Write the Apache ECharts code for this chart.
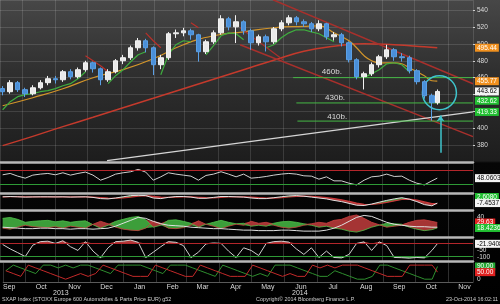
<!DOCTYPE html>
<html><head><meta charset="utf-8">
<script src="https://cdn.jsdelivr.net/npm/echarts@6/dist/echarts.min.js"></script>
<style>
html,body{margin:0;padding:0;background:#000;}
#c{width:500px;height:304px;background:linear-gradient(to bottom,#474747 0px,#303030 70px,#1d1d1d 161px,#060606 163px,#000 304px);}
</style></head><body><div id="c"></div>
<script>
const DAY = 86400000;
function T(s){const m=s.match(/(\d+)-(\d+)-(\d+)(?:[ T](\d+):(\d+))?/);return new Date(+m[1],+m[2]-1,+m[3],m[4]?+m[4]:0,m[5]?+m[5]:0).getTime();}
const monthNames = ['Jan','Feb','Mar','Apr','May','Jun','Jul','Aug','Sep','Oct','Nov','Dec'];
const xMinStr = '2013-09-10 13:00', xMaxStr = '2014-11-24 05:00';

// weekly sample dates
const weeks = ['2013-09-13','2013-09-20','2013-09-27','2013-10-04','2013-10-11','2013-10-18','2013-10-25','2013-11-01','2013-11-08','2013-11-15','2013-11-22','2013-11-29','2013-12-06','2013-12-13','2013-12-20','2013-12-27','2014-01-03','2014-01-10','2014-01-17','2014-01-24','2014-01-31','2014-02-07','2014-02-14','2014-02-21','2014-02-28','2014-03-07','2014-03-14','2014-03-21','2014-03-28','2014-04-04','2014-04-11','2014-04-18','2014-04-25','2014-05-02','2014-05-09','2014-05-16','2014-05-23','2014-05-30','2014-06-06','2014-06-13','2014-06-20','2014-06-27','2014-07-04','2014-07-11','2014-07-18','2014-07-25','2014-08-01','2014-08-08','2014-08-15','2014-08-22','2014-08-29','2014-09-05','2014-09-12','2014-09-19','2014-09-26','2014-10-03','2014-10-10','2014-10-17','2014-10-22'];

// price (OHLC)
const openP  = [447,443.3,454.0,445.7,440.9,448.0,454.0,458.7,457.5,467.0,461.1,469.4,477.6,470.5,457.5,467.0,480.0,483.6,495.4,503.7,495.4,475.3,483.6,512.0,513.1,515.5,510.8,490.7,502.5,513.1,529.7,520.2,526.2,515.5,501.3,508.4,502.5,517.9,525.0,530.9,526.2,523.8,517.9,523.8,508.4,510.8,501.3,481.2,461.1,464.6,475.3,484.7,493.0,484.7,483.6,468.2,455.2,438.6,430.3];
const closeP = [443.3,454.0,445.7,440.9,448.0,454.0,458.7,457.5,467.0,461.1,469.4,477.6,470.5,457.5,467.0,480.0,483.6,495.4,503.7,495.4,475.3,483.6,512.0,513.1,515.5,510.8,490.7,502.5,513.1,529.7,520.2,526.2,515.5,501.3,508.4,502.5,517.9,525.0,530.9,526.2,523.8,517.9,523.8,508.4,510.8,501.3,481.2,461.1,464.6,475.3,484.7,493.0,484.7,483.6,468.2,455.2,438.6,430.3,443.62];
const lowP   = [439,441,443,437,439,446,451,453,455,458,459,467,466,451,455,465,476,481,492,490,463,470,481,507,509,505,479,488,500,511,516,501,511,493,498,491,500,515,522,522,520,514,515,505,504,497,478,458,446,462,472,482,480,479,465,452,435,409,428];
const highP  = [450,457,456,448,451,457,462,462,469,470,472,480,479,472,470,482,487,498,507,506,497,487,514,517,519,518,512,505,516,534,532,534,528,518,511,511,520,528,534,533,529,526,528,525,514,513,503,483,467,478,487,499,495,489,486,470,457,441,446];

// moving averages / overlays
const maDates = ['2013-09-13','2013-10-11','2013-11-08','2013-12-06','2014-01-03','2014-01-31','2014-02-28','2014-03-28','2014-04-25','2014-05-23','2014-06-20','2014-07-04','2014-07-18','2014-08-01','2014-08-08','2014-08-15','2014-08-22','2014-08-29','2014-09-12','2014-09-19','2014-09-26','2014-10-03','2014-10-10','2014-10-17','2014-10-22'];
const maVals  = [426.7,436.2,446.8,459.9,469.4,482.4,499.0,509.6,514.3,519.1,520.8,521.4,513.1,503.7,495.4,485.9,480.0,477.6,477.6,476.4,471.7,467.0,462.2,456.3,455.77];
const ma200Dates = ['2013-09-13','2013-10-11','2013-11-08','2013-12-06','2014-01-03','2014-01-31','2014-02-28','2014-03-28','2014-04-25','2014-05-23','2014-06-20','2014-07-18','2014-08-15','2014-09-12','2014-10-10','2014-10-22'];
const ma200Vals  = [379.4,390.4,401.9,413.0,424.4,435.5,446.9,458.1,469.4,480.6,491.2,497.2,500.1,498.9,496.6,495.44];
const greenVals = [421.9,431.5,437.4,439.8,441.0,443.3,444.5,446.9,450.4,452.8,458.7,467.0,null,null,452.8,462.3,469.4,478.8,487.1,490.7,null,463.4,487.1,498.9,503.7,502.5,null,487.1,497.8,509.6,513.1,512.0,504.8,null,null,495.4,499.0,507.2,513.1,516.7,516.7,514.3,512.0,507.2,502.5,null,null,null,460.0,464.6,469.4,476.4,477.6,475.3,467.0,null,null,431.5,432.62];
const sarVals = [null,null,null,null,null,null,null,null,null,null,null,485.9,480.0,474.1,467.0,null,null,null,null,513.1,503.7,495.4,null,null,null,525.0,519.1,null,null,null,null,null,null,null,null,null,null,null,null,null,null,null,null,null,null,null,null,null,null,null,null,null,null,null,null,null,null,null,null];

// trend lines
const upperDates = ['2014-05-22 07:00', xMaxStr], upperVals = [552.2, 452.8];
const lowerDates = ['2014-04-21 17:00', xMaxStr], lowerVals = [498.9, 390.1];
const steepDates = ['2014-04-21 17:00','2014-05-31 14:00'], steepVals = [519.1, 481.2];
const trendDates = ['2013-12-19', xMaxStr], trendVals = [361.7, 419.33];
const supportVals = [460, 430, 408.5];
const supportStart = ['2014-06-10','2014-06-13','2014-06-14'];
const supportText = ['460b.','430b.','410b.'];
const supportTextDates = ['2014-07-16','2014-07-19','2014-07-21'];
const supportTextVals = [466.7, 436.1, 413.7];
const tagVals = [495.44, 455.77, 443.62, 432.62, 419.33];
const tagBg = ['#f0901e','#f0901e','#f4f4f4','#22c032','#22c032'];
const tagFg = ['#fff','#fff','#000','#fff','#fff'];

// indicators
const rsi = [58,62,54,48,57,60,62,58,64,57,62,66,57,42,50,60,64,67,74,66,42,52,64,60,57,54,42,56,60,67,60,52,60,48,50,53,57,60,62,60,55,54,45,52,40,40,33,28,42,52,54,60,53,54,42,33,28,40,48.06];
const macdLine = [3,3.5,3,2.5,2.8,3,3,2.8,3,2.5,2.8,3,2,0,-0.5,1,3,5,5.5,5,1,0,2,3.5,3.5,2.5,0.5,0.5,2,3.5,3.5,3,2.5,1,0,0,1.5,3,4.5,5,4,2.5,1,-0.5,-3,-5,-8,-11,-11.5,-9,-6,-3,-0.5,1.5,-1,-5,-10,-12,-7.45];
const macdSignal = [3,3.1,3.2,3,2.9,2.9,3,2.9,2.9,2.8,2.8,2.8,2.6,1.8,1,0.6,1.2,2.5,4,4.8,3.8,2.6,2,2.4,2.9,2.9,2.2,1.5,1.3,2,2.7,3,2.9,2.3,1.5,0.8,0.8,1.6,2.7,3.7,4,3.6,2.8,1.6,0,-2,-4.5,-7.5,-9.5,-9.8,-8.5,-6.3,-3.8,-1.5,-0.8,-2.5,-5.5,-8.5,-8.4];
const plusDI = [38,40,36,30,32,33,34,31,33,30,32,33,25,18,24,32,36,40,42,35,20,24,34,35,32,28,20,26,30,34,30,27,28,22,24,22,28,31,32,30,27,24,20,22,18,16,12,10,14,20,24,28,27,26,20,16,13,15,18.42];
const minusDI = [18,16,20,24,21,20,19,21,18,22,20,18,26,32,27,20,16,14,13,18,32,28,18,17,19,24,33,26,22,17,22,26,24,32,28,30,24,20,18,20,24,27,30,28,34,36,42,45,38,30,25,20,22,24,30,34,35,32,29.63];
const adx = [20,19,18,17,17,18,18,17,17,16,17,17,16,17,18,22,28,34,40,38,32,27,24,23,22,20,19,18,17,17,16,15,14,14,13,13,13,14,14,13,12,12,12,14,18,24,32,40,44,42,36,30,26,24,22,21,21,20,20];
const willR = [-25,-45,-62,-80,-28,-12,-10,-20,-8,-35,-52,-12,-55,-85,-40,-12,-10,-5,-15,-84,-60,-35,-12,-15,-30,-84,-60,-22,-18,-20,-55,-84,-40,-52,-75,-20,-12,-10,-14,-45,-70,-40,-84,-55,-84,-86,-70,-20,-13,-52,-13,-30,-84,-85,-87,-84,-86,-52,-21.94];
const aroonUp = [60,100,80,60,40,100,100,80,100,80,100,100,80,60,40,100,100,100,100,80,60,40,100,100,100,80,60,40,20,100,80,60,40,20,40,20,100,100,100,80,60,40,20,20,60,40,20,0,0,20,100,100,80,60,40,20,0,0,90];
const aroonDown = [60,40,20,100,80,60,40,20,0,20,40,20,40,100,80,60,40,20,20,20,100,80,60,40,20,20,100,80,60,40,20,20,20,100,80,60,40,20,40,20,20,100,80,100,80,100,100,100,80,60,40,20,20,20,100,100,100,100,50];

// ---------- build ----------
const xMin = T(xMinStr), xMax = T(xMaxStr), HALF = 15.2*DAY;
const W = weeks.map(T);
const P = arr => W.map((t,i)=>[t, arr[i]]);
const PD = (ds, vs) => ds.map((d,i)=>[T(d), vs[i]]);
const FONT = 'Liberation Sans';

function lineS(xi, data, color, width, extra){
  return Object.assign({type:'line', xAxisIndex:xi, yAxisIndex:xi, data, symbol:'none', showSymbol:false, connectNulls:false,
    lineStyle:{color, width}, silent:true, z:3}, extra||{});
}
function stackS(xi, data, stack, color){
  const s = {type:'line', xAxisIndex:xi, yAxisIndex:xi, data, stack, stackStrategy:'all', symbol:'none', showSymbol:false,
    lineStyle:{opacity:0, width:0}, silent:true, z:2};
  if (color) s.areaStyle = {color, opacity:1};
  return s;
}
function tagLine(items){
  return {silent:true, symbol:['none','none'], animation:false,
    lineStyle:{color:'rgba(0,0,0,0)', width:0},
    label:{show:true, position:'end', distance:2, fontSize:6.5, fontFamily:FONT, padding:[1,2,0,2], lineHeight:7},
    data: items};
}
function tag(v, text, bg, fg){ return {yAxis:v, label:{formatter:text, backgroundColor:bg, color:fg}}; }
function hl(v, color){ return {yAxis:v, lineStyle:{color, width:1, type:'solid'}, label:{show:false}}; }

const series = [];
// main panel
series.push({type:'candlestick', xAxisIndex:0, yAxisIndex:0, barWidth:5, silent:true, z:5,
  encode:{x:0, y:[1,2,3,4]},
  data: W.map((t,i)=>[t, openP[i], closeP[i], lowP[i], highP[i]]),
  itemStyle:{color:'#e9e9e9', color0:'#4a8fd8', borderColor:'#f2f2f2', borderColor0:'#5ba0e6', borderWidth:1}});
series.push(lineS(0, PD(ma200Dates, ma200Vals), '#c43a2c', 1.5, {smooth:true,
  markLine: tagLine(tagVals.map((v,i)=>tag(v, v.toFixed(2), tagBg[i], tagFg[i])))}));
series.push(lineS(0, PD(maDates, maVals), '#d3952a', 1.2, {smooth:true}));
series.push(lineS(0, P(greenVals), '#3fae3f', 1.2));
series.push(lineS(0, P(sarVals), '#b8302a', 1.2));
series.push(lineS(0, PD(upperDates, upperVals), '#a8302c', 1.5));
series.push(lineS(0, PD(lowerDates, lowerVals), '#a8302c', 1.5));
series.push(lineS(0, PD(steepDates, steepVals), '#a8302c', 1.2));
series.push(lineS(0, PD(trendDates, trendVals), '#d6d6d6', 1.3, {
  markPoint:{silent:true, animation:false, data:[{coord:[T('2014-10-24'), 442], symbol:'circle', symbolSize:34,
    itemStyle:{color:'rgba(0,0,0,0)', borderColor:'#3fc4cc', borderWidth:1.5}, label:{show:false}}]},
  markLine:{silent:true, animation:false, symbol:['none','arrow'], symbolSize:6,
    lineStyle:{color:'#3fc4cc', width:1.5, type:'solid'}, label:{show:false},
    data:[[{coord:[T('2014-10-25'), 371]},{coord:[T('2014-10-25'), 415]}]]}
}));
supportVals.forEach((v,i)=>{
  series.push(lineS(0, [[T(supportStart[i]), v],[xMax, v]], '#45b845', 1, {
    markPoint:{silent:true, animation:false, symbol:'circle', symbolSize:0,
      data:[{coord:[T(supportTextDates[i]), supportTextVals[i]], label:{show:true, position:'inside', formatter:supportText[i],
        color:'#dcdcdc', fontSize:8, fontFamily:FONT}}]}
  }));
});

// RSI panel
series.push(stackS(1, P(rsi.map(()=>70)), 'rob', null));
series.push(stackS(1, P(rsi.map(v=>Math.max(v-70,0))), 'rob', '#b03a3a'));
series.push(stackS(1, P(rsi.map(v=>Math.min(v,30))), 'ros', null));
series.push(stackS(1, P(rsi.map(v=>30-Math.min(v,30))), 'ros', '#3a9a3a'));
series.push(lineS(1, P(rsi), '#d0d0d0', 1, {markLine: tagLine([hl(70,'#b3262b'), hl(30,'#2e9a36'), tag(48.0603,'48.0603','#f4f4f4','#000')])}));

// MACD panel
series.push(stackS(2, P(macdLine.map((m,i)=>Math.min(m,macdSignal[i]))), 'mc', null));
series.push(stackS(2, P(macdLine.map((m,i)=>Math.max(m-macdSignal[i],0))), 'mc', '#3f9e3f'));
series.push(stackS(2, P(macdLine.map((m,i)=>Math.max(macdSignal[i]-m,0))), 'mc', '#a83a3a'));
series.push(lineS(2, P(macdSignal), '#c8383a', 1.2));
series.push(lineS(2, P(macdLine), '#e0e0e0', 1, {markLine: tagLine([tag(2.608,'2.6080','#22c032','#fff'), tag(-7.4537,'-7.4537','#f4f4f4','#000')])}));

// DMI panel
series.push(stackS(3, P(plusDI.map((p,i)=>Math.min(p,minusDI[i]))), 'dm', null));
series.push(stackS(3, P(plusDI.map((p,i)=>Math.max(p-minusDI[i],0))), 'dm', '#3c9e3a'));
series.push(stackS(3, P(plusDI.map((p,i)=>Math.max(minusDI[i]-p,0))), 'dm', '#a53434'));
series.push(lineS(3, P(plusDI), '#4fbf4a', 0.8));
series.push(lineS(3, P(minusDI), '#c84040', 0.8));
series.push(lineS(3, P(adx), '#e0e0e0', 1, {markLine: tagLine([tag(29.63,'29.63','#e0201f','#fff'), tag(18.4236,'18.4236','#22c032','#fff')])}));

// Williams %R panel
series.push(stackS(4, P(willR.map(()=>-20)), 'wob', null));
series.push(stackS(4, P(willR.map(v=>Math.max(v+20,0))), 'wob', '#b03a3a'));
series.push(stackS(4, P(willR.map(v=>Math.min(v,-80))), 'wos', null));
series.push(stackS(4, P(willR.map(v=>-80-Math.min(v,-80))), 'wos', '#3a9a3a'));
series.push(lineS(4, P(willR), '#d0d0d0', 1, {markLine: tagLine([hl(-20,'#b3262b'), hl(-80,'#2e9a36'), tag(-21.9408,'-21.9408','#f4f4f4','#000')])}));

// Aroon panel
series.push(lineS(5, P(aroonUp), '#2f8f2f', 1));
series.push(lineS(5, P(aroonDown), '#c42a2a', 1, {markLine: tagLine([tag(90,'90.00','#22a832','#fff'), tag(50,'50.00','#e0201f','#fff')])}));

const gridDefs = [[0,162],[164,29],[195,15],[212,25],[239,22],[263,19]];
const grid = gridDefs.map(g=>({left:0, right:27, top:g[0], height:g[1]}));
const xAxis = gridDefs.map((g,i)=>({type:'time', gridIndex:i, min:xMin, max:xMax, minInterval:28*DAY, maxInterval:31*DAY, splitNumber:15,
  axisLabel:{show:false}, axisTick:{show:false},
  axisLine:{show:true, onZero:false, lineStyle:{color: i<5 ? '#b8b8b8' : '#5a5a5a', width: i<5 ? 2.5 : 1}},
  splitLine:{show:true, lineStyle:{color: i===0 ? 'rgba(255,255,255,0.13)' : '#2e2e2e', width:1}}}));
xAxis.push({type:'time', gridIndex:5, position:'bottom', min:xMin-HALF, max:xMax-HALF, minInterval:28*DAY, maxInterval:31*DAY, splitNumber:15,
  axisLine:{show:false}, axisTick:{show:false}, splitLine:{show:false},
  axisLabel:{show:true, margin:2, color:'#dcdcdc', fontSize:7, fontFamily:FONT, interval:0,
    formatter: v => monthNames[new Date(v).getMonth()]}});

const yBase = {type:'value', position:'right', axisLine:{show:false}, splitLine:{show:false}, axisTick:{show:false}, axisLabel:{show:false}};
const lab = {show:true, color:'#dcdcdc', fontSize:6.5, fontFamily:FONT, margin:4};
const yAxis = [
  Object.assign({}, yBase, {gridIndex:0, min:360, max:552, interval:20,
    axisLabel:Object.assign({}, lab, {showMinLabel:false, showMaxLabel:false}),
    axisTick:{show:true, length:2, lineStyle:{color:'#cfcfcf'}},
    splitLine:{show:true, lineStyle:{color:'rgba(255,255,255,0.13)'}}}),
  Object.assign({}, yBase, {gridIndex:1, min:4, max:90}),
  Object.assign({}, yBase, {gridIndex:2, min:-19, max:6}),
  Object.assign({}, yBase, {gridIndex:3, min:0, max:51, interval:40,
    axisLabel:Object.assign({}, lab, {formatter: v => v===40 ? '40' : ''})}),
  Object.assign({}, yBase, {gridIndex:4, min:-100, max:0, interval:50,
    axisLabel:Object.assign({}, lab, {formatter: v => v===-50 ? '-50' : (v===-100 ? '{u|-100}' : ''),
      rich:{u:{fontSize:6.5, fontFamily:FONT, color:'#dcdcdc', padding:[0,0,7,0]}}})}),
  Object.assign({}, yBase, {gridIndex:5, min:-20, max:115, interval:20,
    axisLabel:Object.assign({}, lab, {formatter: v => v===0 ? '0' : ''})})
];

const txt = (x, y, s, extra) => Object.assign({type:'text', left:x, top:y, silent:true,
  style:{text:s, fill:'#cfcfcf', font:'5.4px "Liberation Sans"'}}, extra||{});
const graphic = [
  txt(53, 289.5, '2013', {style:{text:'2013', fill:'#dcdcdc', font:'7px "Liberation Sans"'}}),
  txt(292, 289.5, '2014', {style:{text:'2014', fill:'#dcdcdc', font:'7px "Liberation Sans"'}}),
  txt(2, 297, 'SXAP Index (STOXX Europe 600 Automobiles & Parts Price EUR) g52'),
  txt(256, 297, 'Copyright\u00a9 2014 Bloomberg Finance L.P.'),
  {type:'text', right:2, top:297, silent:true, style:{text:'23-Oct-2014 16:02:11', fill:'#cfcfcf', font:'5.4px "Liberation Sans"'}}
];

const chart = echarts.init(document.getElementById('c'), null, {renderer:'canvas'});
chart.setOption({animation:false, backgroundColor:'transparent', grid, xAxis, yAxis, series, graphic});
</script></body></html>
